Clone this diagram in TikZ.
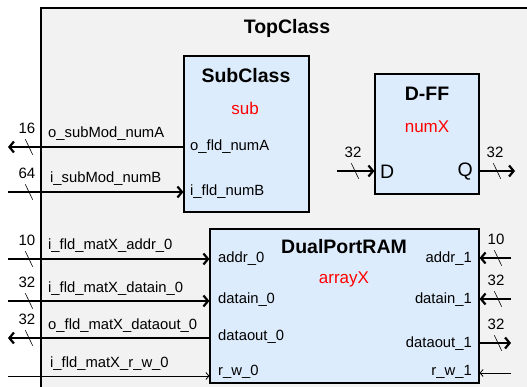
\documentclass[tikz,border=0pt]{standalone}
\usepackage{fontspec}
\setmainfont{Liberation Sans}
\usetikzlibrary{arrows.meta,positioning}

\definecolor{topgray}{RGB}{242,242,242}
\definecolor{modblue}{RGB}{221,236,252}

\tikzset{
  modbox/.style={draw, line width=1.2pt, fill=modblue, inner sep=0pt},
  title/.style={font=\fontsize{19.5}{21}\selectfont\bfseries, inner sep=0pt},
  inst/.style={text=red, font=\fontsize{17}{19}\selectfont, inner sep=0pt},
  port/.style={font=\fontsize{14.8}{16}\selectfont, inner sep=0pt},
  sig/.style={font=\fontsize{14.8}{16}\selectfont, inner sep=0pt, anchor=base west},
  bus/.style={line width=2.2pt, -{Straight Barb[length=4.5pt,width=11pt]}},
  wire/.style={line width=0.8pt, -{Straight Barb[length=3pt,width=7pt]}},
  wmark/.style={inner sep=0pt, minimum width=7pt, minimum height=15pt,
    append after command={(\tikzlastnode.north west) edge[line width=0.6pt,-] (\tikzlastnode.south east)},
    label={[font=\fontsize{15}{16}\selectfont, anchor=base, inner sep=0pt, label distance=5.5pt, xshift=-2pt]90:#1}},
}

\begin{document}
\begin{tikzpicture}[x=1pt,y=-1pt]
 \useasboundingbox (0,0) rectangle (527,387);
 \clip (0,0) rectangle (527,387);
 % top level
 \draw[fill=topgray, line width=1.5pt] (41,8) rectangle (560,420);
 \node[title] (top) at (287,28) {TopClass};

 % SubClass
 \node[modbox, minimum width=125pt, minimum height=156pt] (sub) at (246.5,134) {};
 \node[title] (subT) at (246,76) {SubClass};
 \node[inst] (subI) at (245,108) {sub};
 \node[port, anchor=west] (numA) at (190,147) {o\_fld\_numA};
 \node[port, anchor=west] (numB) at (190,192) {i\_fld\_numB};
 \coordinate (pA) at (8,147);
 \coordinate (pB) at (8,192);
 \draw[bus] (sub.west |- pA) -- (pA);
 \draw[bus] (pB) -- (sub.west |- pB);
 \node[sig] (sA) at (48,138) {o\_subMod\_numA};
 \node[sig] (sB) at (50,183) {i\_subMod\_numB};
 \node[wmark=16] (wA) at (29,147) {};
 \node[wmark=64] (wB) at (29,192) {};

 % D-FF
 \node[modbox, minimum width=104pt, minimum height=120pt] (dff) at (427,134) {};
 \node[title] (dffT) at (427,94) {D-FF};
 \node[inst] (dffI) at (427,127) {numX};
 \node[port, font=\fontsize{19.5}{21}\selectfont, anchor=west] (D) at (380,172) {D};
 \node[port, font=\fontsize{19.5}{21}\selectfont, anchor=east] (Q) at (473,172) {Q};
 \coordinate (dIn) at (337,171);
 \coordinate (qOut) at (515,171);
 \draw[bus] (dIn) -- (dIn -| dff.west);
 \draw[bus] (qOut -| dff.east) -- (qOut);
 \node[wmark=32] (wD) at (355,171) {};
 \node[wmark=32] (wQ) at (497,171) {};

 % DualPortRAM
 \node[modbox, minimum width=269pt, minimum height=154pt] (ram) at (344.5,306) {};
 \node[title] (ramT) at (344,247) {DualPortRAM};
 \node[inst] (ramI) at (344,279) {arrayX};
 \node[port, anchor=west] (addr0) at (218,259) {addr\_0};
 \node[port, anchor=west] (din0) at (218,300) {datain\_0};
 \node[port, anchor=west] (dout0) at (218,337) {dataout\_0};
 \node[port, anchor=west] (rw0) at (218,372) {r\_w\_0};
 \node[port, anchor=east] (addr1) at (472,259) {addr\_1};
 \node[port, anchor=east] (din1) at (472,300) {datain\_1};
 \node[port, anchor=east] (dout1) at (472,344) {dataout\_1};
 \node[port, anchor=east] (rw1) at (472,372) {r\_w\_1};

 % port 0 side
 \coordinate (a0) at (8,259);
 \coordinate (i0) at (8,301);
 \coordinate (o0) at (8,338);
 \coordinate (r0) at (8,376);
 \draw[bus] (a0) -- (ram.west |- a0);
 \draw[bus] (i0) -- (ram.west |- i0);
 \draw[bus] (ram.west |- o0) -- (o0);
 \draw[wire] (r0) -- (ram.west |- r0);
 \node[sig] (sa0) at (48,250) {i\_fld\_matX\_addr\_0};
 \node[sig] (si0) at (48,292) {i\_fld\_matX\_datain\_0};
 \node[sig] (so0) at (48,329) {o\_fld\_matX\_dataout\_0};
 \node[sig] (sr0) at (50,367) {i\_fld\_matX\_r\_w\_0};
 \node[wmark=10] (wa0) at (29,259) {};
 \node[wmark=32] (wi0) at (29,301) {};
 \node[wmark=32] (wo0) at (29,338) {};

 % port 1 side
 \coordinate (a1) at (511,258);
 \coordinate (i1) at (511,299);
 \coordinate (o1) at (511,343);
 \coordinate (r1) at (511,373);
 \draw[bus] (a1) -- (ram.east |- a1);
 \draw[bus] (i1) -- (ram.east |- i1);
 \draw[bus] (ram.east |- o1) -- (o1);
 \draw[wire] (r1) -- (ram.east |- r1);
 \node[wmark=10] (wa1) at (498,258) {};
 \node[wmark=32] (wi1) at (498,299) {};
 \node[wmark=32] (wo1) at (498,343) {};
\end{tikzpicture}
\end{document}
